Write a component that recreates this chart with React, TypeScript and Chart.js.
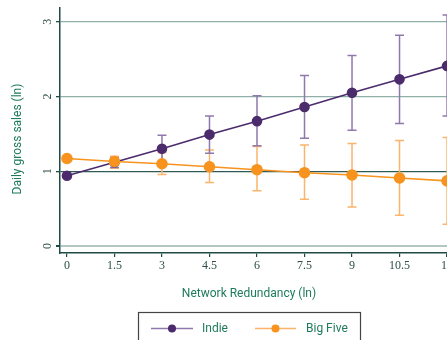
import React, { useEffect, useRef } from "react";
import { Chart, registerables } from "chart.js";

Chart.register(...registerables);

const xValues = [0, 1.5, 3, 4.5, 6, 7.5, 9, 10.5, 12];
const xTicks = [0, 1.5, 3, 4.5, 6, 7.5, 9, 10.5, 12];
const yTicks = [0, 1, 2, 3];

const indie = [0.94, 1.12, 1.3, 1.49, 1.67, 1.86, 2.05, 2.23, 2.41];
const indieLo = [0.94, 1.05, 1.12, 1.24, 1.34, 1.44, 1.55, 1.64, 1.74];
const indieHi = [0.94, 1.18, 1.48, 1.74, 2.01, 2.28, 2.55, 2.82, 3.09];

const bigFive = [1.17, 1.13, 1.1, 1.06, 1.02, 0.98, 0.95, 0.91, 0.87];
const bigFiveLo = [1.17, 1.04, 0.955, 0.85, 0.74, 0.625, 0.52, 0.41, 0.29];
const bigFiveHi = [1.17, 1.2, 1.25, 1.285, 1.33, 1.35, 1.37, 1.41, 1.45];

const seriesNames = ["Indie", "Big Five"];
const xTitle = "Network Redundancy (ln)";
const yTitle = "Daily gross sales (ln)";

const PURPLE = "#4b2b6c";
const PURPLE_LIGHT = "#8f78ad";
const ORANGE = "#f7931e";
const ORANGE_LIGHT = "#fbb46c";
const AXIS = "#1f4a45";
const TICKTEXT = "#2f4f4b";
const TITLE = "#1e7b5c";

const CANVAS_W = 470;
const CANVAS_H = 340;

export default function App() {
  const ref = useRef<HTMLCanvasElement | null>(null);

  useEffect(() => {
    if (!ref.current) return;

    const errorBars = {
      id: "errorBars",
      beforeDatasetsDraw(chart: any) {
        const { ctx, scales } = chart;
        const xs = scales.x;
        const ys = scales.y;
        const sets = [
          { lo: bigFiveLo, hi: bigFiveHi, color: ORANGE_LIGHT },
          { lo: indieLo, hi: indieHi, color: PURPLE_LIGHT },
        ];
        ctx.save();
        for (const s of sets) {
          ctx.strokeStyle = s.color;
          ctx.lineWidth = 1.5;
          for (let i = 0; i < xValues.length; i++) {
            if (s.lo[i] === s.hi[i]) continue;
            const px = xs.getPixelForValue(xValues[i]);
            const pl = ys.getPixelForValue(s.lo[i]);
            const ph = ys.getPixelForValue(s.hi[i]);
            ctx.beginPath();
            ctx.moveTo(px, pl);
            ctx.lineTo(px, ph);
            ctx.moveTo(px - 4.5, pl);
            ctx.lineTo(px + 4.5, pl);
            ctx.moveTo(px - 4.5, ph);
            ctx.lineTo(px + 4.5, ph);
            ctx.stroke();
          }
        }
        ctx.restore();
      },
    };

    const decorations = {
      id: "decorations",
      afterDraw(chart: any) {
        const { ctx, scales } = chart;
        const ys = scales.y;
        ctx.save();
        // y tick labels, rotated
        ctx.fillStyle = TICKTEXT;
        ctx.font = "12px 'Liberation Serif'";
        ctx.textAlign = "center";
        ctx.textBaseline = "middle";
        for (const v of yTicks) {
          const py = ys.getPixelForValue(v);
          ctx.save();
          ctx.translate(48, py);
          ctx.rotate(-Math.PI / 2);
          ctx.fillText(String(v), 0, 0);
          ctx.restore();
        }
        // y title
        ctx.fillStyle = TITLE;
        ctx.font = "12px Roboto";
        ctx.save();
        ctx.translate(18, 139);
        ctx.rotate(-Math.PI / 2);
        ctx.fillText(yTitle, 0, 0);
        ctx.restore();
        // x title
        ctx.fillText(xTitle, 249, 294);
        // legend box
        ctx.strokeStyle = "#444444";
        ctx.lineWidth = 1.2;
        ctx.strokeRect(138.5, 312.5, 222, 40);
        const items = [
          { name: seriesNames[0], line: PURPLE_LIGHT, dot: PURPLE, x0: 151, x1: 193, tx: 202 },
          { name: seriesNames[1], line: ORANGE_LIGHT, dot: ORANGE, x0: 255, x1: 296, tx: 306 },
        ];
        const ly = 328.5;
        for (const it of items) {
          ctx.strokeStyle = it.line;
          ctx.lineWidth = 1.5;
          ctx.beginPath();
          ctx.moveTo(it.x0, ly);
          ctx.lineTo(it.x1, ly);
          ctx.stroke();
          ctx.fillStyle = it.dot;
          ctx.beginPath();
          ctx.arc((it.x0 + it.x1) / 2, ly, 4, 0, Math.PI * 2);
          ctx.fill();
          ctx.fillStyle = TITLE;
          ctx.font = "12px Roboto";
          ctx.textAlign = "left";
          ctx.textBaseline = "middle";
          ctx.fillText(it.name, it.tx, ly);
        }
        ctx.restore();
      },
    };

    const chart = new Chart(ref.current, {
      type: "line",
      data: {
        datasets: [
          {
            label: seriesNames[0],
            data: xValues.map((x, i) => ({ x, y: indie[i] })),
            borderColor: PURPLE,
            backgroundColor: PURPLE,
            pointBackgroundColor: PURPLE,
            pointBorderColor: PURPLE,
            pointRadius: 4.5,
            borderWidth: 1.6,
            order: 1,
          },
          {
            label: seriesNames[1],
            data: xValues.map((x, i) => ({ x, y: bigFive[i] })),
            borderColor: ORANGE,
            backgroundColor: ORANGE,
            pointBackgroundColor: ORANGE,
            pointBorderColor: ORANGE,
            pointRadius: 5,
            borderWidth: 1.6,
            order: 0,
          },
        ],
      },
      options: {
        animation: false,
        responsive: false,
        maintainAspectRatio: false,
        layout: { padding: { top: 8, right: CANVAS_W - 454, left: 0, bottom: 0 } },
        plugins: {
          legend: { display: false },
          tooltip: { enabled: false },
        },
        scales: {
          x: {
            type: "linear",
            min: -0.22,
            max: 12.22,
            afterBuildTicks: (scale: any) => {
              scale.ticks = xTicks.map((v) => ({ value: v }));
            },
            afterFit: (scale: any) => {
              scale.height = CANVAS_H - 253;
            },
            grid: {
              drawOnChartArea: false,
              drawTicks: true,
              tickLength: 4,
              color: AXIS,
              tickColor: AXIS,
              lineWidth: 1.2,
            },
            border: { color: AXIS, width: 1.5 },
            ticks: {
              color: TICKTEXT,
              font: { family: "'Liberation Serif'", size: 12 },
              padding: 2,
              maxRotation: 0,
              autoSkip: false,
              callback: (v: any) => String(v),
            },
          },
          y: {
            type: "linear",
            min: -0.095,
            max: 3.185,
            afterBuildTicks: (scale: any) => {
              scale.ticks = yTicks.map((v) => ({ value: v }));
            },
            afterFit: (scale: any) => {
              scale.width = 60;
            },
            grid: {
              drawTicks: true,
              tickLength: 4,
              tickColor: AXIS,
              color: (c: any) => {
                const v = c.tick ? c.tick.value : 0;
                if (v === 1) return "#2f5a55";
                if (v === 0) return "#b3c8c3";
                return "#8fb0a9";
              },
              lineWidth: (c: any) => {
                const v = c.tick ? c.tick.value : 0;
                if (v === 0) return 2;
                return 1.3;
              },
            },
            border: { color: AXIS, width: 1.5 },
            ticks: { display: false },
          },
        },
      },
      plugins: [errorBars, decorations],
    });

    return () => chart.destroy();
  }, []);

  return (
    <div
      style={{
        position: "fixed",
        left: 0,
        top: 0,
        width: 447,
        height: 340,
        overflow: "hidden",
        background: "#ffffff",
      }}
    >
      <canvas ref={ref} width={CANVAS_W} height={CANVAS_H} style={{ display: "block" }} />
    </div>
  );
}
